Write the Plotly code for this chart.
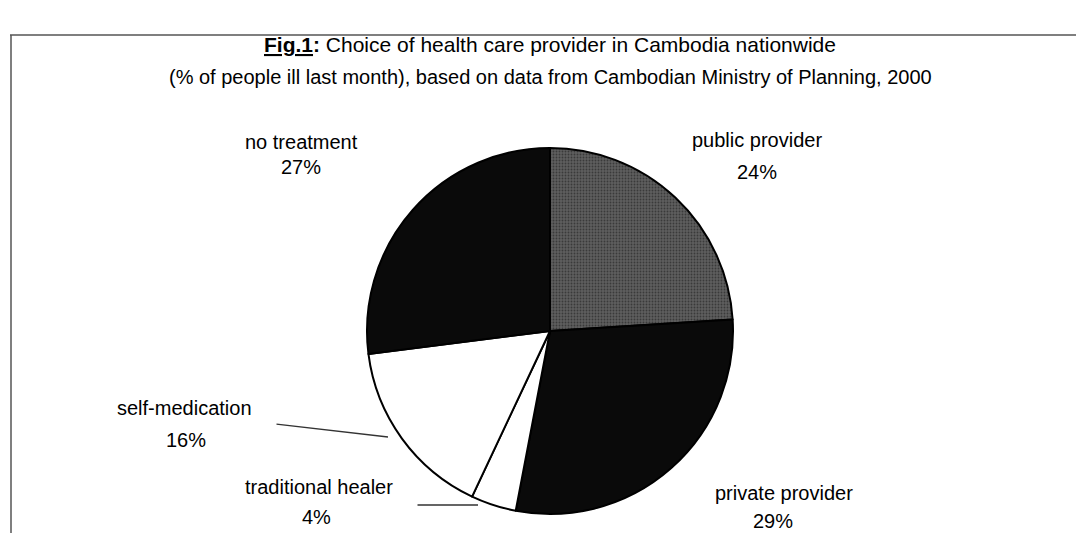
import plotly.graph_objects as go

W, H = 1082, 533

categories = ["public provider", "private provider", "traditional healer", "self-medication", "no treatment"]
shares = [24, 29, 4, 16, 27]
slice_colors = ["#555555", "#0a0a0a", "#ffffff", "#ffffff", "#0a0a0a"]

title_main = "Choice of health care provider in Cambodia nationwide"
title_sub = "(% of people ill last month), based on data from Cambodian Ministry of Planning, 2000"

# label placement (pixel centres) for name line and percent line
label_pos = {
    "public provider": ((757, 140), (757, 172)),
    "private provider": ((784, 493), (773, 521)),
    "traditional healer": ((319, 487), (316, 517)),
    "self-medication": ((184, 408), (186, 440)),
    "no treatment": ((301, 142), (301, 167)),
}

FONT = "Liberation Sans, Arial, sans-serif"


def px(x):
    return x / W


def py(y):
    return 1 - y / H


fig = go.Figure()
fig.add_trace(go.Pie(
    labels=categories,
    values=shares,
    sort=False,
    direction="clockwise",
    rotation=0,
    textinfo="none",
    hoverinfo="label+percent",
    marker=dict(colors=slice_colors, line=dict(color="#000000", width=2),
                pattern=dict(shape=[".", "", "", "", ""], fgcolor="#3a3a3a",
                             bgcolor="#5e5e5e", size=3, solidity=0.3)),
    domain=dict(x=[px(550) - 0.25, px(550) + 0.25], y=[py(331) - 183 / H, py(331) + 183 / H]),
    showlegend=False,
))

annotations = []
for cat, v in zip(categories, shares):
    (nx, ny), (vx, vy) = label_pos[cat]
    annotations.append(dict(x=px(nx), y=py(ny), xref="paper", yref="paper", text=cat,
                            showarrow=False, xanchor="center", yanchor="middle",
                            font=dict(family=FONT, size=20, color="#000000")))
    annotations.append(dict(x=px(vx), y=py(vy), xref="paper", yref="paper", text=f"{v}%",
                            showarrow=False, xanchor="center", yanchor="middle",
                            font=dict(family=FONT, size=20, color="#000000")))

# leader lines
annotations.append(dict(x=px(388), y=py(437), xref="paper", yref="paper", text="",
                        showarrow=True, arrowhead=0, arrowwidth=1.3, arrowcolor="#333333",
                        ax=-113, ay=-13, axref="pixel", ayref="pixel"))
annotations.append(dict(x=px(478), y=py(505), xref="paper", yref="paper", text="",
                        showarrow=True, arrowhead=0, arrowwidth=1.3, arrowcolor="#333333",
                        ax=-62, ay=0, axref="pixel", ayref="pixel"))

# titles
annotations.append(dict(x=px(550), y=py(44), xref="paper", yref="paper",
                        text="<b><u>Fig.1</u>:</b> " + title_main, showarrow=False,
                        xanchor="center", yanchor="middle",
                        font=dict(family=FONT, size=21, color="#000000")))
annotations.append(dict(x=px(550), y=py(77), xref="paper", yref="paper",
                        text=title_sub, showarrow=False, xanchor="center", yanchor="middle",
                        font=dict(family=FONT, size=20, color="#000000")))

shapes = [
    dict(type="line", xref="paper", yref="paper", x0=px(10), x1=px(1076), y0=py(35), y1=py(35),
         line=dict(color="#555555", width=1.5)),
    dict(type="line", xref="paper", yref="paper", x0=px(11), x1=px(11), y0=py(35), y1=py(533),
         line=dict(color="#555555", width=1.5)),
]

fig.update_layout(
    width=W, height=H,
    margin=dict(l=0, r=0, t=0, b=0),
    paper_bgcolor="#ffffff",
    plot_bgcolor="#ffffff",
    annotations=annotations,
    shapes=shapes,
)

fig.write_html("out.html")
